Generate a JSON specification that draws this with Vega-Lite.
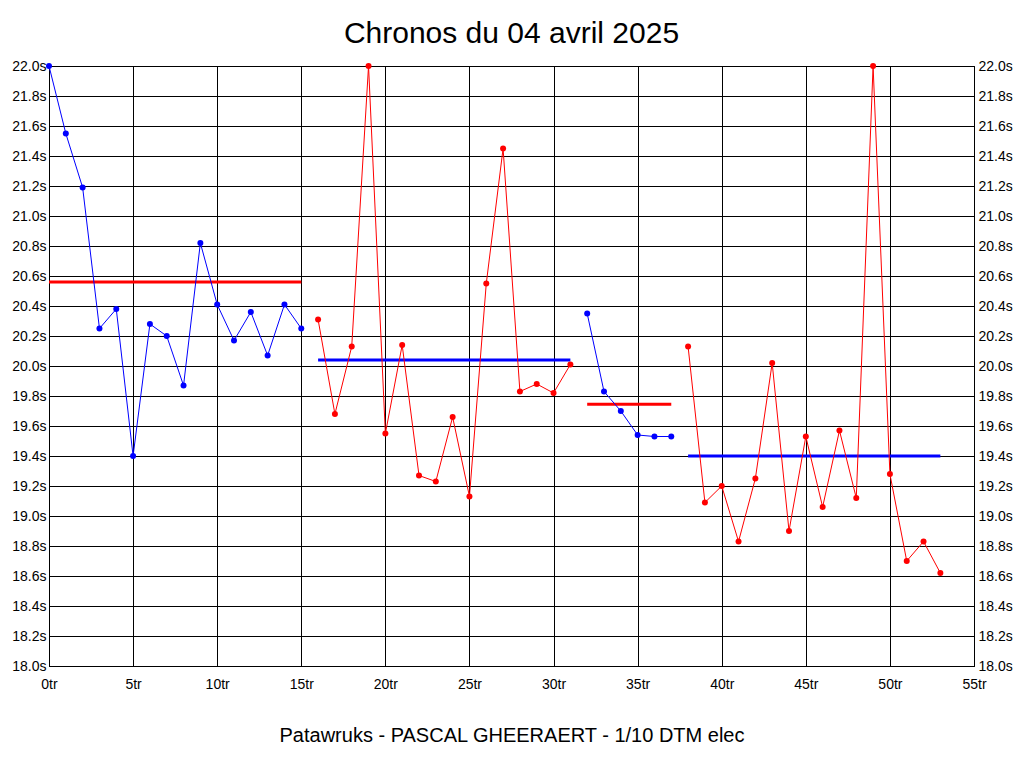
{
  "$schema": "https://vega.github.io/schema/vega-lite/v6.json",
  "autosize": {"type": "none"},
  "width": 925,
  "height": 600,
  "padding": {"left": 49, "top": 66, "right": 50, "bottom": 102},
  "background": "white",
  "title": {"text": "Chronos du 04 avril 2025", "font": "Liberation Sans", "fontSize": 30, "fontWeight": "normal", "color": "black", "frame": "group", "anchor": "middle", "baseline": "alphabetic", "offset": 23, "dy": 37},
  "config": {
    "view": {"stroke": "black", "strokeWidth": 1},
    "axis": {"labelFont": "Liberation Sans", "labelFontSize": 14, "labelColor": "black", "titleFont": "Liberation Sans", "titleColor": "black", "domainColor": "black", "gridColor": "black", "gridOpacity": 1, "gridWidth": 1, "ticks": false}
  },
  "datasets": {
    "laps": [
      {"t": 0, "v": 22.0, "session": 1}, {"t": 1, "v": 21.55, "session": 1}, {"t": 2, "v": 21.19, "session": 1},
      {"t": 3, "v": 20.25, "session": 1}, {"t": 4, "v": 20.38, "session": 1}, {"t": 5, "v": 19.40, "session": 1},
      {"t": 6, "v": 20.28, "session": 1}, {"t": 7, "v": 20.20, "session": 1}, {"t": 8, "v": 19.87, "session": 1},
      {"t": 9, "v": 20.82, "session": 1}, {"t": 10, "v": 20.41, "session": 1}, {"t": 11, "v": 20.17, "session": 1},
      {"t": 12, "v": 20.36, "session": 1}, {"t": 13, "v": 20.07, "session": 1}, {"t": 14, "v": 20.41, "session": 1},
      {"t": 15, "v": 20.25, "session": 1},
      {"t": 16, "v": 20.31, "session": 2}, {"t": 17, "v": 19.68, "session": 2}, {"t": 18, "v": 20.13, "session": 2},
      {"t": 19, "v": 22.0, "session": 2}, {"t": 20, "v": 19.55, "session": 2}, {"t": 21, "v": 20.14, "session": 2},
      {"t": 22, "v": 19.27, "session": 2}, {"t": 23, "v": 19.23, "session": 2}, {"t": 24, "v": 19.66, "session": 2},
      {"t": 25, "v": 19.13, "session": 2}, {"t": 26, "v": 20.55, "session": 2}, {"t": 27, "v": 21.45, "session": 2},
      {"t": 28, "v": 19.83, "session": 2}, {"t": 29, "v": 19.88, "session": 2}, {"t": 30, "v": 19.82, "session": 2},
      {"t": 31, "v": 20.01, "session": 2},
      {"t": 32, "v": 20.35, "session": 3}, {"t": 33, "v": 19.83, "session": 3}, {"t": 34, "v": 19.70, "session": 3},
      {"t": 35, "v": 19.54, "session": 3}, {"t": 36, "v": 19.53, "session": 3}, {"t": 37, "v": 19.53, "session": 3},
      {"t": 38, "v": 20.13, "session": 4}, {"t": 39, "v": 19.09, "session": 4}, {"t": 40, "v": 19.20, "session": 4},
      {"t": 41, "v": 18.83, "session": 4}, {"t": 42, "v": 19.25, "session": 4}, {"t": 43, "v": 20.02, "session": 4},
      {"t": 44, "v": 18.90, "session": 4}, {"t": 45, "v": 19.53, "session": 4}, {"t": 46, "v": 19.06, "session": 4},
      {"t": 47, "v": 19.57, "session": 4}, {"t": 48, "v": 19.12, "session": 4}, {"t": 49, "v": 22.0, "session": 4},
      {"t": 50, "v": 19.28, "session": 4}, {"t": 51, "v": 18.70, "session": 4}, {"t": 52, "v": 18.83, "session": 4},
      {"t": 53, "v": 18.62, "session": 4}
    ],
    "averages": [
      {"start": 0, "end": 15, "avg": 20.56, "session": 1},
      {"start": 16, "end": 31, "avg": 20.04, "session": 2},
      {"start": 32, "end": 37, "avg": 19.745, "session": 3},
      {"start": 38, "end": 53, "avg": 19.40, "session": 4}
    ]
  },
  "layer": [
    {
      "data": {"name": "averages"},
      "mark": {"type": "rule", "strokeWidth": 3},
      "encoding": {
        "x": {"field": "start", "type": "quantitative", "scale": {"domain": [0, 55], "nice": false, "zero": false},
              "axis": {"values": [0,5,10,15,20,25,30,35,40,45,50,55], "labelExpr": "datum.value + 'tr'", "grid": true, "labelFlush": false, "labelPadding": 11, "title": "Patawruks - PASCAL GHEERAERT - 1/10 DTM elec", "titleFontSize": 20, "titleFontWeight": "normal", "titleBaseline": "alphabetic", "titleY": 75}},
        "x2": {"field": "end"},
        "y": {"field": "avg", "type": "quantitative", "scale": {"domain": [18, 22], "nice": false, "zero": false},
              "axis": {"orient": "right", "values": [18,18.2,18.4,18.6,18.8,19,19.2,19.4,19.6,19.8,20,20.2,20.4,20.6,20.8,21,21.2,21.4,21.6,21.8,22], "labelExpr": "format(datum.value, '.1f') + 's'", "grid": false, "labelPadding": 4, "title": null}},
        "color": {"field": "session", "type": "nominal", "scale": {"domain": [1, 2, 3, 4], "range": ["#ff0000", "#0000ff", "#ff0000", "#0000ff"]}, "legend": null}
      }
    },
    {
      "data": {"name": "laps"},
      "mark": {"type": "line", "strokeWidth": 1, "point": {"filled": true, "size": 36}},
      "encoding": {
        "x": {"field": "t", "type": "quantitative", "scale": {"domain": [0, 55], "nice": false, "zero": false},
              "axis": {"values": [0,5,10,15,20,25,30,35,40,45,50,55], "labelExpr": "datum.value + 'tr'", "grid": true, "labelFlush": false, "labelPadding": 11, "title": "Patawruks - PASCAL GHEERAERT - 1/10 DTM elec", "titleFontSize": 20, "titleFontWeight": "normal", "titleBaseline": "alphabetic", "titleY": 75}},
        "y": {"field": "v", "type": "quantitative", "scale": {"domain": [18, 22], "nice": false, "zero": false},
              "axis": {"orient": "left", "values": [18,18.2,18.4,18.6,18.8,19,19.2,19.4,19.6,19.8,20,20.2,20.4,20.6,20.8,21,21.2,21.4,21.6,21.8,22], "labelExpr": "format(datum.value, '.1f') + 's'", "grid": true, "labelPadding": 3, "title": null}},
        "color": {"field": "session", "type": "nominal", "scale": {"domain": [1, 2, 3, 4], "range": ["#0000ff", "#ff0000", "#0000ff", "#ff0000"]}, "legend": null},
        "detail": {"field": "session"}
      }
    }
  ],
  "resolve": {"scale": {"color": "independent"}, "axis": {"y": "independent"}}
}
